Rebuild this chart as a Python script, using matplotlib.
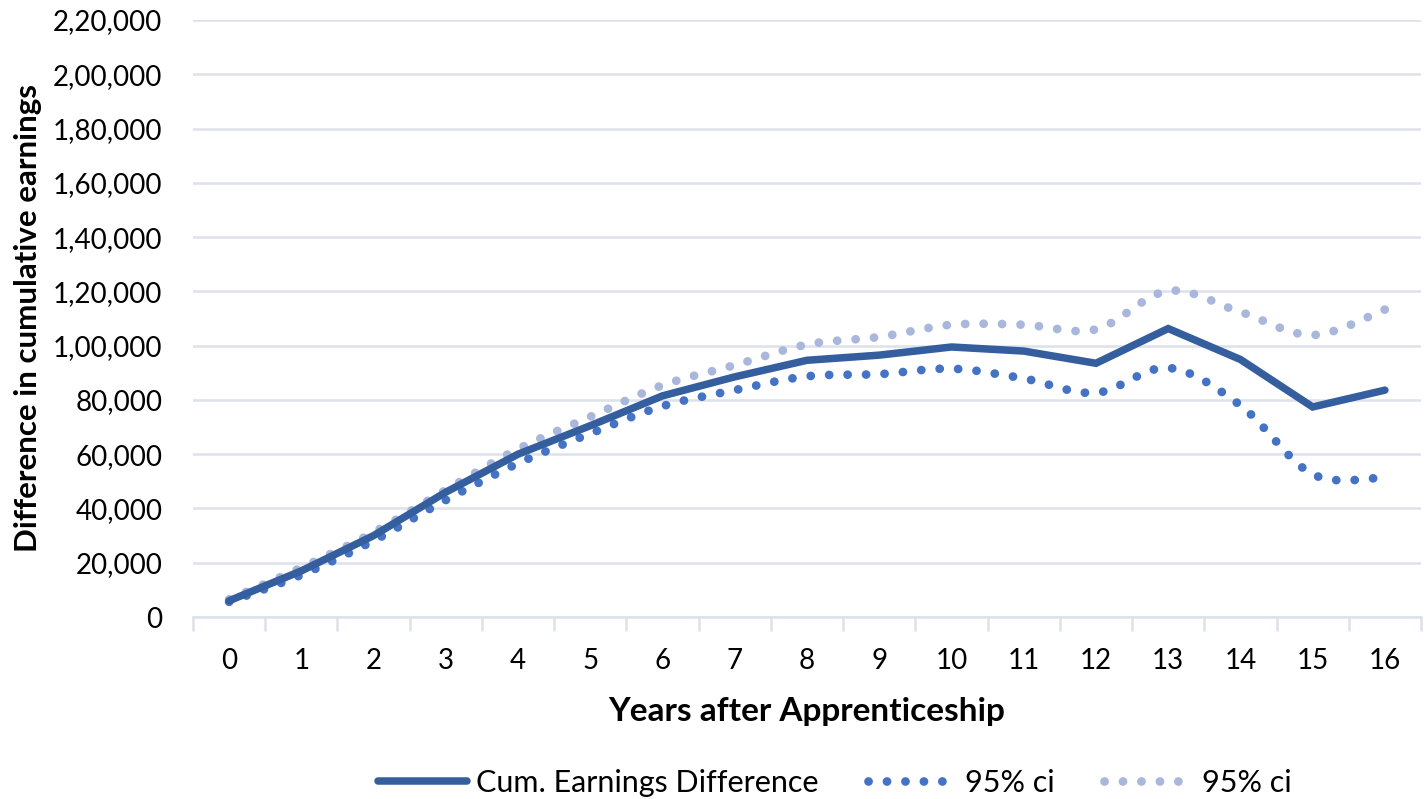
import matplotlib
matplotlib.use("Agg")
import matplotlib.pyplot as plt
from matplotlib.path import Path
from matplotlib.patches import PathPatch
from matplotlib.lines import Line2D
from matplotlib.ticker import FuncFormatter, FixedLocator
import numpy as np

years = list(range(17))
cum_diff = [6000, 17000, 30000, 46000, 60000, 70500, 81500, 88500, 94600, 96500,
            99500, 98000, 93500, 106300, 94900, 77400, 83600]
ci_low = [5600, 15500, 28100, 43100, 56600, 67600, 77700, 83600, 88700, 89500,
          91500, 87900, 82600, 91800, 78000, 52600, 51400]
ci_high = [6500, 18200, 31200, 46800, 61900, 73800, 85400, 92800, 100400, 103200,
           107700, 107700, 106000, 120200, 112400, 103900, 113300]

MAIN = "#355e9f"
DARK = "#4472c4"
LIGHT = "#a9b7dc"
GRID = "#dde1e9"

plt.rcParams["font.family"] = ["Lato", "DejaVu Sans"]


def indian(v, pos=None):
    v = int(round(v))
    s = str(v)
    if len(s) <= 3:
        return s
    last3 = s[-3:]
    rest = s[:-3]
    parts = []
    while len(rest) > 2:
        parts.insert(0, rest[-2:])
        rest = rest[:-2]
    if rest:
        parts.insert(0, rest)
    return ",".join(parts) + "," + last3


def smooth_path(x, y):
    # excel style smoothed line as cubic bezier segments
    pts = np.column_stack([x, y]).astype(float)
    verts = [pts[0]]
    codes = [Path.MOVETO]
    n = len(pts)
    for i in range(n - 1):
        p0 = pts[i - 1] if i > 0 else pts[i]
        p1 = pts[i]
        p2 = pts[i + 1]
        p3 = pts[i + 2] if i + 2 < n else pts[i + 1]
        c1 = p1 + (p2 - p0) / 6.0
        c2 = p2 - (p3 - p1) / 6.0
        verts += [c1, c2, p2]
        codes += [Path.CURVE4] * 3
    return Path(verts, codes)


fig = plt.figure(figsize=(14.27, 7.99), dpi=100)
ax = fig.add_axes([193 / 1427, 1 - 617 / 799, (1421 - 193) / 1427, (617 - 20) / 799])

dot_style = (0, (0.01, 2.1))
for ys, col in [(ci_high, LIGHT), (ci_low, DARK)]:
    patch = PathPatch(smooth_path(years, ys), fill=False, edgecolor=col, lw=6.3,
                      linestyle=dot_style, capstyle="round", zorder=2)
    ax.add_patch(patch)

ax.plot(years, cum_diff, color=MAIN, lw=5.4, solid_capstyle="round",
        solid_joinstyle="miter", zorder=3)

ax.set_xlim(-0.5, 16.5)
ax.set_ylim(0, 220000)
ax.set_yticks(np.arange(0, 220001, 20000))
ax.yaxis.set_major_formatter(FuncFormatter(indian))
ax.set_xticks(years)
ax.xaxis.set_minor_locator(FixedLocator(np.arange(-0.5, 16.6, 1)))
ax.grid(axis="y", color=GRID, lw=1.8, zorder=0)
for s in ["top", "right", "left"]:
    ax.spines[s].set_visible(False)
ax.spines["bottom"].set_color(GRID)
ax.spines["bottom"].set_linewidth(1.8)
ax.tick_params(axis="y", length=0, pad=22, labelsize=20)
ax.tick_params(axis="x", which="major", length=0, pad=22, labelsize=20)
ax.tick_params(axis="x", which="minor", length=10, width=1.8, color=GRID)

ax.set_xlabel("Years after Apprenticeship", fontsize=24, fontweight="bold", labelpad=17)
ax.set_ylabel("Difference in cumulative earnings", fontsize=22.5, fontweight="bold", labelpad=8)

handles = [
    Line2D([], [], color=MAIN, lw=5.4, solid_capstyle="round"),
    Line2D([], [], color=DARK, lw=6.3, linestyle=dot_style, dash_capstyle="round"),
    Line2D([], [], color=LIGHT, lw=6.3, linestyle=dot_style, dash_capstyle="round"),
]
labels = ["Cum. Earnings Difference", "95% ci", "95% ci"]
fig.legend(handles, labels, loc="lower center", bbox_to_anchor=(0.585, -0.032), ncol=3,
           frameon=False, fontsize=22, handlelength=2.9, handletextpad=0.3,
           columnspacing=1.6)

fig.savefig("out.png", dpi=100)
